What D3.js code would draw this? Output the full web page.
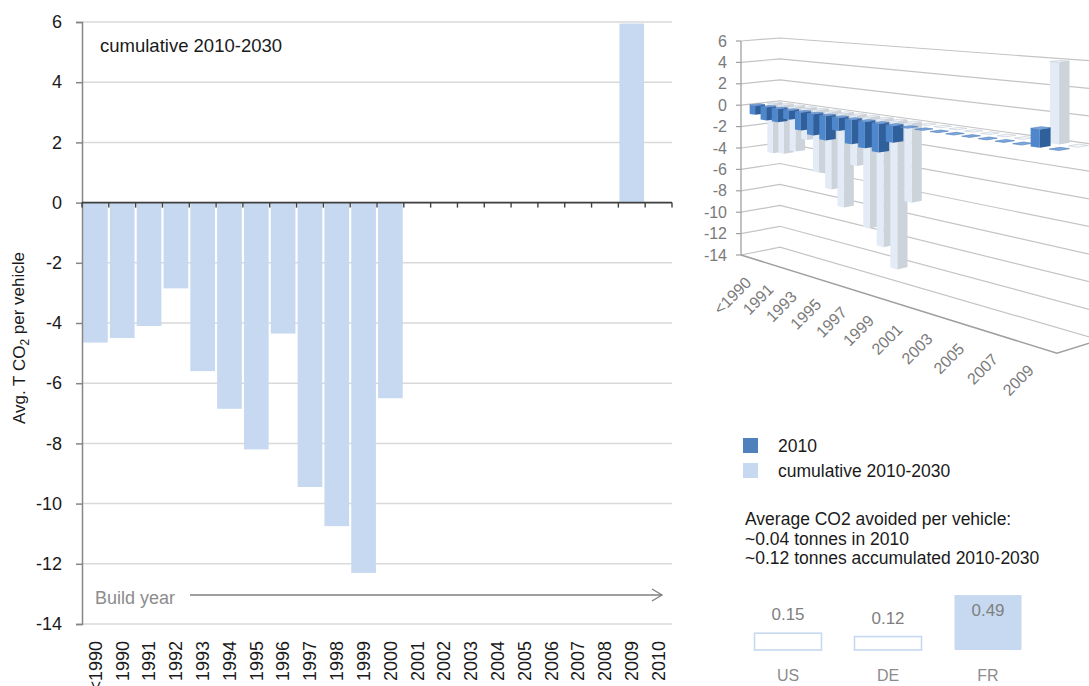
<!DOCTYPE html>
<html><head><meta charset="utf-8">
<script src="https://cdn.jsdelivr.net/npm/d3@7"></script>
<style>
body{margin:0;background:#fff;}
svg{display:block;font-family:"Liberation Sans",Arial,sans-serif;}
</style>
</head><body>
<svg id="chart" width="1089" height="686"></svg>
<script>
// ---------- data ----------
const categories = ["<1990","1990","1991","1992","1993","1994","1995","1996","1997","1998","1999","2000","2001","2002","2003","2004","2005","2006","2007","2008","2009","2010"];
const cumulative = [-4.65,-4.5,-4.1,-2.85,-5.6,-6.85,-8.2,-4.35,-9.45,-10.75,-12.3,-6.5,0,0,0,0,0,0,0,0,5.95,0];
const annual2010 = [-0.85,-1.2,-1.2,-0.8,-1.6,-1.85,-2.1,-1.1,-2.05,-2.2,-2.35,-1.35,0,0,0,0,0,0,0,0,1.3,0];
const yTicks = [6,4,2,0,-2,-4,-6,-8,-10,-12,-14];
const labels3d = ["<1990","1991","1993","1995","1997","1999","2001","2003","2005","2007","2009"];
const legendLabels = ["2010","cumulative 2010-2030"];
const noteLines = ["Average CO2 avoided per vehicle:","~0.04 tonnes in 2010","~0.12 tonnes accumulated 2010-2030"];
const countries = ["US","DE","FR"];
const countryValues = [0.15,0.12,0.49];
const countryLabels = ["0.15","0.12","0.49"];
const highlighted = ["FR"];

const svg = d3.select("#chart");
const LIGHT = "#c6d9f0", DARK = "#4f81bd";

// ---------- main chart ----------
const x = d3.scaleBand().domain(categories).range([82, 672]).paddingInner(0.08).paddingOuter(0.04);
const y = d3.scaleLinear().domain([-14, 6]).range([624, 22]);
const main = svg.append("g");

main.selectAll("line.grid").data(yTicks).join("line")
  .attr("x1", 82).attr("x2", 672).attr("y1", d => y(d)).attr("y2", d => y(d))
  .attr("stroke", "#d9d9d9").attr("stroke-width", 1.5);

main.selectAll("rect.bar").data(categories.map((c, i) => ({c, v: cumulative[i]})).filter(d => d.v !== 0))
  .join("rect")
  .attr("x", d => x(d.c)).attr("width", x.bandwidth())
  .attr("y", d => y(Math.max(0, d.v))).attr("height", d => Math.abs(y(d.v) - y(0)))
  .attr("fill", LIGHT);

// y axis
const yAx = main.append("g").attr("transform", "translate(82,0)")
  .call(d3.axisLeft(y).tickValues(yTicks).tickSize(6).tickPadding(14).tickFormat(d3.format("d")));
yAx.select(".domain").attr("stroke", "#868686").attr("stroke-width", 1.5);
yAx.selectAll(".tick line").attr("stroke", "#868686").attr("stroke-width", 1.5);
yAx.selectAll(".tick text").attr("font-size", 18).attr("fill", "#1a1a1a")
  .attr("font-family", "Liberation Sans, Arial, sans-serif").text(d => d < 0 ? "-" + Math.abs(d) : d);

// x axis at zero
const step = x.step();
const bounds = d3.range(categories.length + 1).map(k => x.range()[0] + k * step);
main.append("line").attr("x1", 82).attr("x2", 672).attr("y1", y(0)).attr("y2", y(0))
  .attr("stroke", "#404040").attr("stroke-width", 1.6);
main.selectAll("line.xt").data(bounds).join("line")
  .attr("x1", d => d).attr("x2", d => d).attr("y1", y(0)).attr("y2", y(0) + 5)
  .attr("stroke", "#404040").attr("stroke-width", 1.4);

main.selectAll("text.xl").data(categories).join("text")
  .attr("transform", d => `translate(${x(d) + x.bandwidth() / 2},641) rotate(-90)`)
  .attr("text-anchor", "end").attr("dy", "0.35em")
  .attr("font-size", 18).attr("fill", "#1a1a1a").text(d => d);

main.append("text").attr("x", 100).attr("y", 52).attr("font-size", 18.5).attr("fill", "#1a1a1a")
  .text("cumulative 2010-2030");

const yt = main.append("text").attr("transform", "translate(25,338) rotate(-90)")
  .attr("text-anchor", "middle").attr("font-size", 17).attr("fill", "#1a1a1a");
yt.append("tspan").text("Avg. T CO");
yt.append("tspan").attr("font-size", 12).attr("dy", "0.3em").text("2");
yt.append("tspan").attr("dy", "-0.3em").text(" per vehicle");

main.append("text").attr("x", 95).attr("y", 604).attr("font-size", 18).attr("fill", "#8c8c8c").text("Build year");
main.append("line").attr("x1", 190).attr("x2", 662).attr("y1", 595).attr("y2", 595)
  .attr("stroke", "#7f7f7f").attr("stroke-width", 1.3);
main.append("path").attr("d", "M652,589 L662,595 L652,601").attr("fill", "none")
  .attr("stroke", "#7f7f7f").attr("stroke-width", 1.3);

// ---------- 3D chart ----------
const g3 = svg.append("g");
const y3 = d3.scaleLinear().domain([-14, 6]).range([255, 41]);
const x3 = d3.scaleBand().domain(categories).range([0, 1]).paddingInner(0.5).paddingOuter(0.25);
const AX = 741, L1 = -0.2544, L2 = 0.02283, VP1 = [-185, -33], VP2 = [2488, -94];
function proj(X, v, Z) {
  const w = 1 + L1 * X + L2 * Z;
  return [(AX + L1 * X * VP1[0] + L2 * Z * VP2[0]) / w,
          (y3(v) + L1 * X * VP1[1] + L2 * Z * VP2[1]) / w];
}
const line3 = pts => "M" + pts.map(p => proj(...p).join(",")).join("L");
const poly3 = pts => line3(pts) + "Z";

// walls gridlines
yTicks.forEach(v => {
  g3.append("path").attr("d", line3([[0, v, 0], [0, v, 1], [1, v, 1]]))
    .attr("fill", "none").attr("stroke", "#c4c4c4").attr("stroke-width", 1.2);
});
// floor edges
g3.append("path").attr("d", line3([[0, -14, 0], [1, -14, 0], [1, -14, 1]]))
  .attr("fill", "none").attr("stroke", "#a0a0a0").attr("stroke-width", 1.6);

// bars
const series3 = [
  {vals: cumulative, z0: 0.6, z1: 0.85, front: "#e3ebf6", side: "#cdd3da", top: "#f4f7fb", edge: "#c3c9d1"},
  {vals: annual2010, z0: 0.15, z1: 0.4, front: "#4f87cc", side: "#30609c", top: "#7fa9dd", edge: "#4a7bb8"}
];
const bars3 = [];
series3.forEach(s => categories.forEach((c, i) => {
  const x0 = x3(c), x1 = x0 + x3.bandwidth();
  bars3.push({s, v: s.vals[i], x0, x1, depth: 1 + L1 * (x0 + x1) / 2 + L2 * (s.z0 + s.z1) / 2});
}));
bars3.sort((a, b) => b.depth - a.depth);
bars3.forEach(b => {
  const {s, v, x0, x1} = b, z0 = s.z0, z1 = s.z1;
  const lo = Math.min(0, v), hi = Math.max(0, v);
  if (v !== 0) {
    g3.append("path").attr("d", poly3([[x1, hi, z0], [x1, hi, z1], [x1, lo, z1], [x1, lo, z0]])).attr("fill", s.side);
    g3.append("path").attr("d", poly3([[x0, hi, z0], [x1, hi, z0], [x1, lo, z0], [x0, lo, z0]])).attr("fill", s.front);
  }
  g3.append("path").attr("d", poly3([[x0, hi, z0], [x1, hi, z0], [x1, hi, z1], [x0, hi, z1]]))
    .attr("fill", s.top).attr("stroke", s.edge).attr("stroke-width", 0.6);
});

// 3D value axis
g3.append("line").attr("x1", AX).attr("x2", AX).attr("y1", y3(6)).attr("y2", y3(-14))
  .attr("stroke", "#a0a0a0").attr("stroke-width", 1.3);
g3.selectAll("line.t3").data(yTicks).join("line")
  .attr("x1", AX - 5).attr("x2", AX).attr("y1", d => y3(d)).attr("y2", d => y3(d))
  .attr("stroke", "#a0a0a0").attr("stroke-width", 1.2);
g3.selectAll("text.t3").data(yTicks).join("text")
  .attr("x", AX - 14).attr("y", d => y3(d)).attr("dy", "0.35em").attr("text-anchor", "end")
  .attr("font-size", 16).attr("fill", "#7a7a7a").text(d => d < 0 ? "-" + Math.abs(d) : d);
g3.selectAll("text.c3").data(labels3d).join("text")
  .attr("transform", d => {
    const p = proj(x3(d) + x3.bandwidth() / 2, -14, 0);
    return `translate(${p[0] + 6},${p[1] + 27}) rotate(-45)`;
  })
  .attr("text-anchor", "end").attr("font-size", 16).attr("fill", "#7a7a7a").text(d => d);

// ---------- legend & notes ----------
const leg = svg.append("g");
leg.selectAll("rect").data(legendLabels).join("rect")
  .attr("x", 743).attr("y", (d, i) => 438 + i * 25).attr("width", 15).attr("height", 15)
  .attr("fill", (d, i) => i === 0 ? DARK : LIGHT);
leg.selectAll("text").data(legendLabels).join("text")
  .attr("x", 778).attr("y", (d, i) => 446 + i * 25).attr("dy", "0.35em")
  .attr("font-size", 17.5).attr("fill", "#1a1a1a").text(d => d);

svg.append("g").selectAll("text").data(noteLines).join("text")
  .attr("x", 745).attr("y", (d, i) => 525 + i * 19.5)
  .attr("font-size", 17.5).attr("fill", "#1a1a1a").text(d => d);

// ---------- country mini bars ----------
const cx = d3.scaleBand().domain(countries).range([738, 1038]).paddingInner(0.33).paddingOuter(0.165);
const cy = d3.scaleLinear().domain([0, 0.5]).range([650, 594]);
const cg = svg.append("g");
countries.forEach((c, i) => {
  const hi = highlighted.includes(c);
  const top = cy(countryValues[i]);
  cg.append("rect").attr("x", cx(c)).attr("width", cx.bandwidth())
    .attr("y", top).attr("height", cy(0) - top)
    .attr("fill", hi ? LIGHT : "#fff").attr("stroke", hi ? "none" : "#c6d9f0").attr("stroke-width", 1.6);
  cg.append("text").attr("x", cx(c) + cx.bandwidth() / 2)
    .attr("y", hi ? top + 15 : top - 19).attr("dy", "0.35em").attr("text-anchor", "middle")
    .attr("font-size", 17).attr("fill", "#808080").text(countryLabels[i]);
  cg.append("text").attr("x", cx(c) + cx.bandwidth() / 2).attr("y", 675).attr("dy", "0.35em")
    .attr("text-anchor", "middle").attr("font-size", 16).attr("fill", "#8c8c8c").text(c);
});
</script>
</body></html>
